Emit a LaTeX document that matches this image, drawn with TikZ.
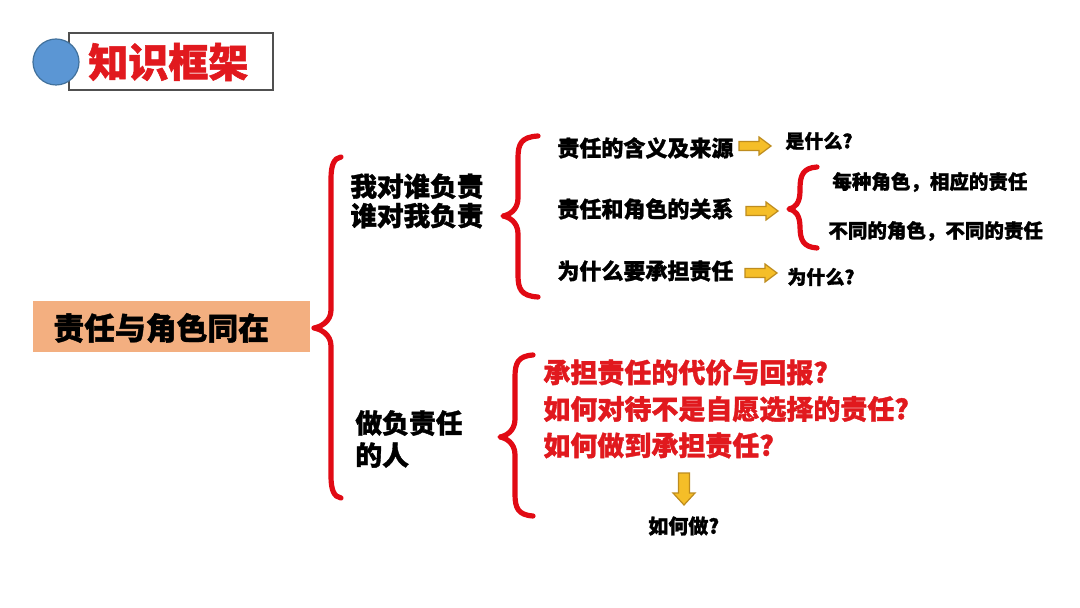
\documentclass[tikz,border=0pt]{standalone}
\usepackage{fontspec}
\setmainfont{Noto Sans CJK SC}[BoldFeatures={FakeBold=1.3}]
\definecolor{braceRed}{RGB}{225,10,20}
\definecolor{txtRed}{RGB}{225,25,30}
\definecolor{boxOrange}{RGB}{243,175,128}
\definecolor{circBlue}{RGB}{91,150,212}
\definecolor{circEdge}{RGB}{65,113,156}
\definecolor{arrFill}{RGB}{245,190,40}
\definecolor{arrEdge}{RGB}{190,140,30}
\tikzset{
  bracestyle/.style={draw=braceRed, line width=2.6pt, line cap=round, line join=round},
  blockarrow/.style={draw=arrEdge, fill=arrFill, line width=0.6pt, line join=miter},
  txt/.style={inner sep=0pt, anchor=west, align=left},
}
\newcommand\fs[2]{\bfseries\fontsize{#1}{#2}\selectfont}
% xr, xm, xl, ytop, ymid, ybot
\newcommand\myBrace[6]{%
\draw[bracestyle] (#1,#4) .. controls ({#2+3},{#4+1}) and (#2,{#4+8}) .. (#2,{#4+22})
 -- (#2,{#5-18}) .. controls (#2,{#5-6}) and ({#3+6},{#5-1}) .. (#3,#5)
 .. controls ({#3+6},{#5+1}) and (#2,{#5+6}) .. (#2,{#5+18})
 -- (#2,{#6-22}) .. controls (#2,{#6-8}) and ({#2+3},{#6-1}) .. (#1,#6);}
\newcommand\yArrowR[2]{%
\draw[blockarrow] ({#1-16},{#2-4.5}) -- ({#1+4},{#2-4.5}) -- ({#1+4},{#2-9}) -- ({#1+16},#2)
 -- ({#1+4},{#2+9}) -- ({#1+4},{#2+4.5}) -- ({#1-16},{#2+4.5}) -- cycle;}
\newcommand\yArrowD[2]{%
\draw[blockarrow] ({#1-5.5},{#2-16}) -- ({#1+5.5},{#2-16}) -- ({#1+5.5},{#2+4}) -- ({#1+11},{#2+4})
 -- (#1,{#2+16}) -- ({#1-11},{#2+4}) -- ({#1-5.5},{#2+4}) -- cycle;}
\begin{document}
\begin{tikzpicture}[x=0.5pt,y=-0.5pt]
\useasboundingbox (0,0) rectangle (1080,608);
\fill[white] (0,0) rectangle (1080,608);
% title
\draw[draw={rgb,255:red,80;green,80;blue,80}, line width=0.8pt, fill=white] (69,33) rectangle (273,90);
\node[circle, fill=circBlue, draw=circEdge, line width=0.6pt, minimum size=23pt, inner sep=0pt] (dot) at (56,62) {};
\node[txt, text=txtRed, font=\fs{20}{24}] (title) at (88,62) {知识框架};
% main box
\node[fill=boxOrange, minimum width=138.5pt, minimum height=25.5pt, inner sep=0pt, anchor=north west] (mainbox) at (33,301) {};
\node[txt, font=\fs{15.4}{18}] (main) at (53,328) {责任与角色同在};
% braces
\myBrace{341}{331}{314}{157}{328}{498}
\myBrace{538}{518}{503}{136}{216}{297}
\myBrace{817}{800}{789}{167}{209}{248}
\myBrace{533}{515}{500}{355}{437}{516}
% level 2
\node[txt, font=\fs{13.3}{14.7}] (who) at (350,201) {我对谁负责\\谁对我负责};
\node[txt, font=\fs{13.4}{16}] (person) at (355,439) {做负责任\\的人};
% level 3
\node[txt, font=\fs{11}{13}] (meaning) at (557,148) {责任的含义及来源};
\node[txt, font=\fs{11}{13}] (role) at (557,209) {责任和角色的关系};
\node[txt, font=\fs{11}{13}] (why) at (557,271) {为什么要承担责任};
\yArrowR{755}{146}
\yArrowR{762}{211}
\yArrowR{761}{273}
\node[txt, font=\fs{9.5}{11}] (what) at (785,141) {是什么?};
\node[txt, font=\fs{9.5}{11}] (whyq) at (787,277) {为什么?};
\node[txt, font=\fs{9.75}{11}] (each) at (832,182) {每种角色，相应的责任};
\node[txt, font=\fs{9.75}{11}] (diff) at (828,231) {不同的角色，不同的责任};
% red questions
\node[txt, text=txtRed, font=\fs{13.5}{18.25}] (q) at (543,409) {承担责任的代价与回报?\\如何对待不是自愿选择的责任?\\如何做到承担责任?};
\yArrowD{684}{489}
\node[txt, font=\fs{10}{12}] (how) at (648,526) {如何做?};
\end{tikzpicture}
\end{document}
